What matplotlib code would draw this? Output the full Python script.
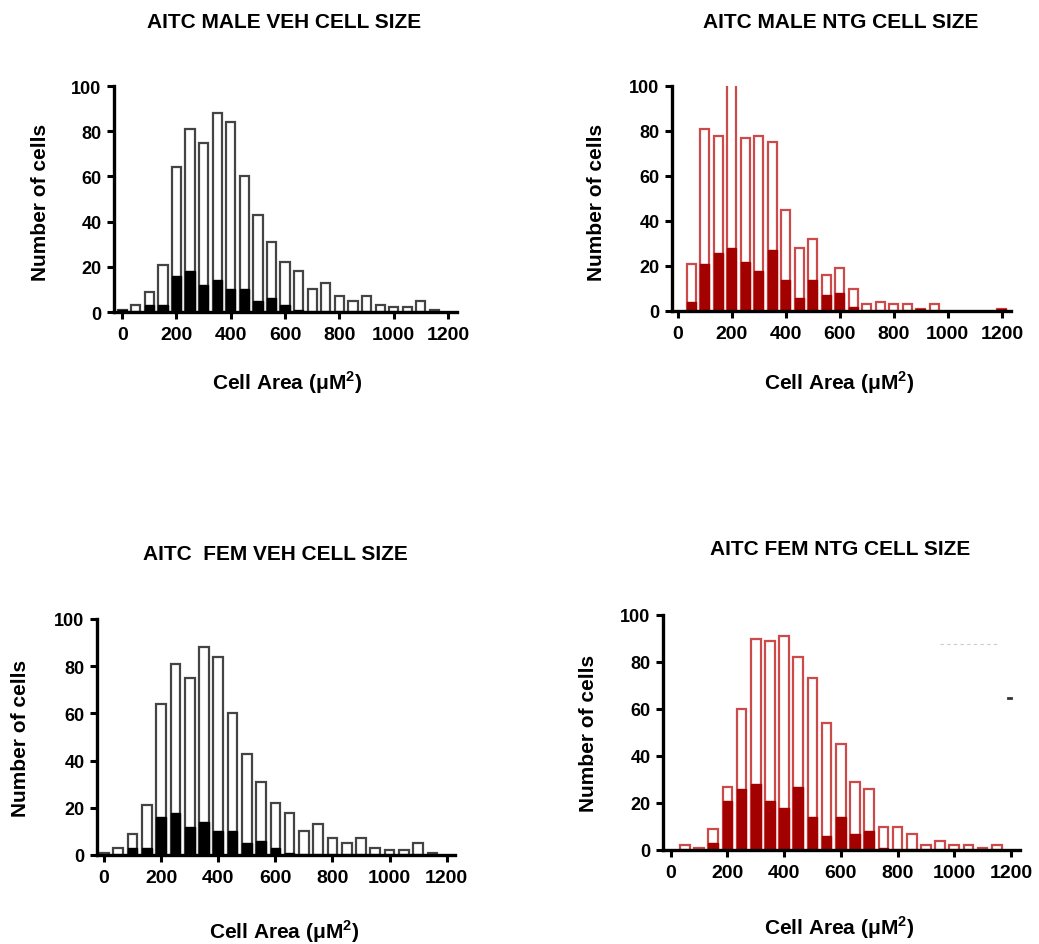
import matplotlib
matplotlib.use("Agg")
import matplotlib.pyplot as plt
import numpy as np

plt.rcParams['font.family'] = ['Liberation Sans', 'DejaVu Sans']
plt.rcParams['font.weight'] = 'bold'
plt.rcParams['mathtext.fontset'] = 'custom'
plt.rcParams['mathtext.rm'] = 'Liberation Sans:bold'
plt.rcParams['mathtext.bf'] = 'Liberation Sans:bold'

# ---------------- data ----------------
bins_all = [0, 50, 100, 150, 200, 250, 300, 350, 400, 450, 500, 550,
            600, 650, 700, 750, 800, 850, 900, 950, 1000, 1050, 1100, 1150]

male_veh_total = [1, 3, 9, 21, 64, 81, 75, 88, 84, 60, 43, 31,
                  22, 18, 10, 13, 7, 5, 7, 3, 2, 2, 5, 1]
male_veh_resp = [1, 0, 3, 3, 16, 18, 12, 14, 10, 10, 5, 6,
                 3, 1, 0, 0, 0, 0, 0, 0, 0, 0, 0, 0]

male_ntg_bins = [50, 100, 150, 200, 250, 300, 350, 400, 450, 500, 550, 600,
                 650, 700, 750, 800, 850, 900, 950, 1200]
male_ntg_total = [21, 81, 78, 118, 77, 78, 75, 45, 28, 32, 16, 19,
                  10, 3, 4, 3, 3, 1, 3, 1]
male_ntg_resp = [4, 21, 26, 28, 22, 18, 27, 14, 6, 14, 7, 8,
                 2, 0, 0, 0, 0, 1, 0, 1]

fem_veh_total = [1, 3, 9, 21, 64, 81, 75, 88, 84, 60, 43, 31,
                 22, 18, 10, 13, 7, 5, 7, 3, 2, 2, 5, 1]
fem_veh_resp = [0, 0, 3, 3, 16, 18, 12, 14, 10, 10, 5, 6,
                3, 1, 0, 0, 0, 0, 0, 0, 0, 0, 0, 0]

fem_ntg_bins = [50, 100, 150, 200, 250, 300, 350, 400, 450, 500, 550, 600,
                650, 700, 750, 800, 850, 900, 950, 1000, 1050, 1100, 1150]
fem_ntg_total = [2, 1, 9, 27, 60, 90, 89, 91, 82, 73, 54, 45,
                 29, 26, 10, 10, 7, 2, 4, 2, 2, 1, 2]
fem_ntg_resp = [0, 0, 3, 21, 26, 28, 21, 18, 27, 14, 6, 14,
                7, 8, 1, 0, 0, 0, 0, 0, 0, 0, 0]

titles = ["AITC MALE VEH CELL SIZE", "AITC MALE NTG CELL SIZE",
          "AITC  FEM VEH CELL SIZE", "AITC FEM NTG CELL SIZE"]
x_ticks = [0, 200, 400, 600, 800, 1000, 1200]
y_ticks = [0, 20, 40, 60, 80, 100]
ylabel_text = "Number of cells"
xlabel_text = "Cell Area (\u03bcM$^{2}$)"

# ---------------- layout ----------------
W, H = 1039, 945
fig = plt.figure(figsize=(W / 100, H / 100), dpi=100)

def px_axes(left, right, top, bottom):
    return fig.add_axes([left / W, 1 - bottom / H, (right - left) / W, (bottom - top) / H])

panels = [
    dict(rect=(114, 457, 87, 313), xlim=(-30, 1233), bins=bins_all,
         total=male_veh_total, resp=male_veh_resp, fill='black', edge='#444444',
         title_xy=(284, 23), ylab_xy=(41, 202), xlab_xy=(287, 383)),
    dict(rect=(672, 1011, 87, 312), xlim=(-21, 1234), bins=male_ntg_bins,
         total=male_ntg_total, resp=male_ntg_resp, fill='#a30000', edge='#cc4a4a',
         title_xy=(841, 23), ylab_xy=(597, 202), xlab_xy=(839, 383)),
    dict(rect=(97, 455, 620, 856), xlim=(-24.5, 1229), bins=bins_all,
         total=fem_veh_total, resp=fem_veh_resp, fill='black', edge='#444444',
         title_xy=(275, 554), ylab_xy=(21, 738), xlab_xy=(284, 932)),
    dict(rect=(663, 1020, 616, 851), xlim=(-27, 1232), bins=fem_ntg_bins,
         total=fem_ntg_total, resp=fem_ntg_resp, fill='#a30000', edge='#cc4a4a',
         title_xy=(840, 550), ylab_xy=(588, 733), xlab_xy=(839, 928)),
]

bar_w = 34
for p, title in zip(panels, titles):
    ax = px_axes(*p['rect'])
    ax.bar(p['bins'], p['total'], width=bar_w, facecolor='white',
           edgecolor=p['edge'], linewidth=1.6, zorder=2)
    ax.bar(p['bins'], p['resp'], width=bar_w, facecolor=p['fill'],
           edgecolor=p['fill'], linewidth=1.0, zorder=3)
    ax.set_xlim(*p['xlim'])
    ax.set_ylim(0, 100)
    ax.set_xticks(x_ticks)
    ax.set_yticks(y_ticks)
    for s in ['top', 'right']:
        ax.spines[s].set_visible(False)
    for s in ['left', 'bottom']:
        ax.spines[s].set_linewidth(2.4)
        ax.spines[s].set_zorder(5)
    ax.tick_params(axis='both', length=5, width=2.2, pad=4)
    ax.tick_params(axis='x', labelsize=14, pad=5)
    ax.tick_params(axis='y', labelsize=13)
    for lab in ax.get_xticklabels() + ax.get_yticklabels():
        lab.set_fontweight('bold')
    tx, ty = p['title_xy']
    fig.text(tx / W, 1 - ty / H, title, ha='center', va='center',
             fontsize=15, fontweight='bold')
    yx, yy = p['ylab_xy']
    fig.text(yx / W, 1 - yy / H, ylabel_text, ha='center', va='center',
             rotation=90, fontsize=15, fontweight='bold')
    xx, xy = p['xlab_xy']
    fig.text(xx / W, 1 - xy / H, xlabel_text, ha='center', va='center',
             fontsize=15, fontweight='bold')

# small stray marks visible in the last panel of the reference
fig.add_artist(plt.Line2D([940 / W, 997 / W], [1 - 645 / H, 1 - 645 / H],
                          color='#cccccc', linewidth=0.8, linestyle=(0, (3, 3))))
fig.add_artist(plt.Line2D([1008 / W, 1011 / W], [1 - 699 / H, 1 - 699 / H],
                          color='#333333', linewidth=2.0))

fig.savefig("out.png", dpi=100)
